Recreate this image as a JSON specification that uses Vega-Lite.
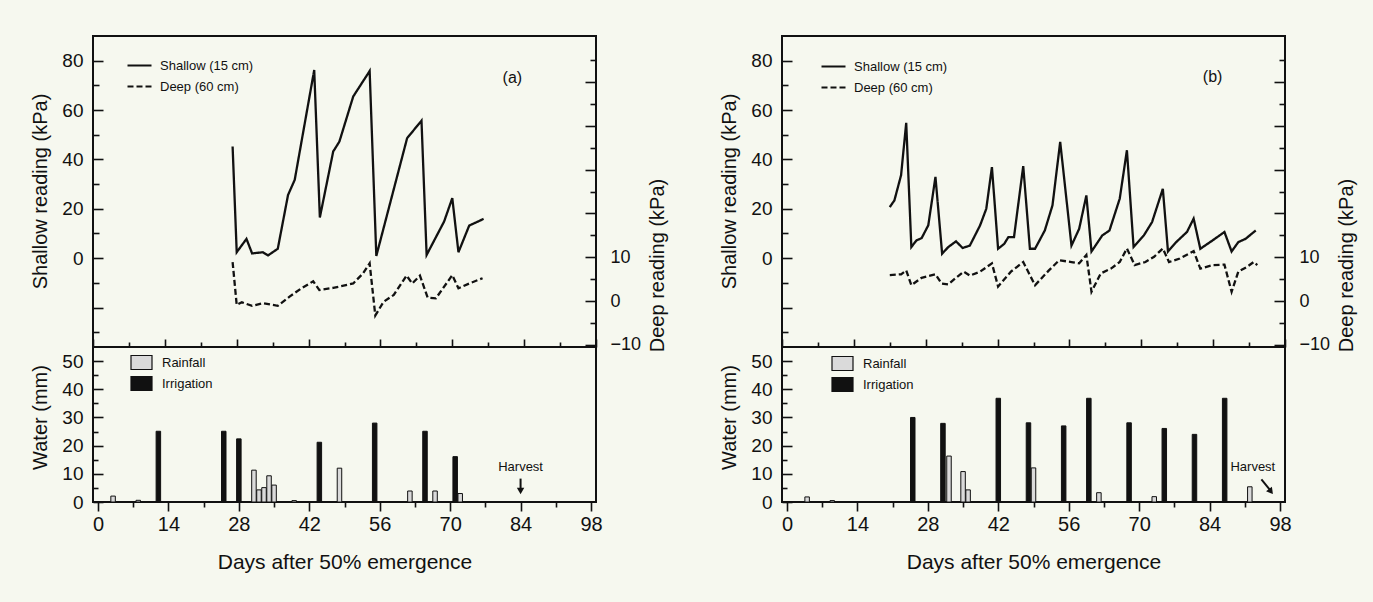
{
 "$schema": "https://vega.github.io/schema/vega-lite/v6.json",
 "background": "#f6f8ef",
 "padding": {"left": 29, "top": 35, "right": 16, "bottom": 29},
 "datasets": {
  "shallowA": [
   {"day":27.2,"kPa":45.2},{"day":28,"kPa":2.4},{"day":29.9,"kPa":7.8},{"day":31,"kPa":1.9},{"day":33.1,"kPa":2.4},{"day":34.1,"kPa":1.1},{"day":36,"kPa":3.8},{"day":38,"kPa":25.6},{"day":39.3,"kPa":31.7},{"day":43.1,"kPa":76.2},{"day":44.2,"kPa":16.5},{"day":46.8,"kPa":43.2},{"day":48,"kPa":47.2},{"day":50.7,"kPa":65.5},{"day":53.9,"kPa":75.8},{"day":55.2,"kPa":0.9},{"day":61.2,"kPa":48.6},{"day":64,"kPa":55.7},{"day":65,"kPa":1.3},{"day":68.4,"kPa":14.8},{"day":70,"kPa":24.3},{"day":71.2,"kPa":2.4},{"day":73.3,"kPa":13.2},{"day":76.1,"kPa":15.9}
  ],
  "deepA": [
   {"day":27.2,"kPa":8.9},{"day":28,"kPa":-0.9},{"day":29,"kPa":-0.3},{"day":31,"kPa":-1.1},{"day":33.1,"kPa":-0.5},{"day":36,"kPa":-1.1},{"day":38.3,"kPa":1.0},{"day":40.6,"kPa":2.9},{"day":42.9,"kPa":4.5},{"day":44.1,"kPa":2.5},{"day":46.8,"kPa":3.0},{"day":50.7,"kPa":4.0},{"day":52.6,"kPa":6.3},{"day":53.9,"kPa":8.6},{"day":55,"kPa":-3.3},{"day":56.6,"kPa":-0.2},{"day":58.6,"kPa":1.4},{"day":61.1,"kPa":5.8},{"day":62.2,"kPa":4.0},{"day":63.7,"kPa":5.8},{"day":65.2,"kPa":0.8},{"day":66.8,"kPa":0.6},{"day":70,"kPa":5.9},{"day":71.2,"kPa":2.9},{"day":73.3,"kPa":4.0},{"day":75.9,"kPa":5.2}
  ],
  "shallowB": [
   {"day":21,"kPa":20.7},{"day":21.9,"kPa":23.4},{"day":23.2,"kPa":33.6},{"day":24.2,"kPa":54.8},{"day":25.2,"kPa":4.5},{"day":26.2,"kPa":7.2},{"day":27.2,"kPa":8.1},{"day":28.5,"kPa":13.3},{"day":29.9,"kPa":32.9},{"day":31.2,"kPa":1.8},{"day":32.4,"kPa":4.5},{"day":33.9,"kPa":6.8},{"day":35.2,"kPa":4.1},{"day":36.6,"kPa":5.1},{"day":38.6,"kPa":13.3},{"day":39.8,"kPa":20.0},{"day":40.9,"kPa":36.9},{"day":42.1,"kPa":3.8},{"day":43.3,"kPa":5.8},{"day":44.1,"kPa":8.5},{"day":45.2,"kPa":8.5},{"day":47,"kPa":37.3},{"day":48.3,"kPa":3.8},{"day":49.3,"kPa":3.8},{"day":51.2,"kPa":11.2},{"day":52.7,"kPa":21.4},{"day":54.2,"kPa":47.1},{"day":56.4,"kPa":5.1},{"day":57.9,"kPa":11.9},{"day":59.3,"kPa":25.4},{"day":60.3,"kPa":2.7},{"day":62.4,"kPa":9.2},{"day":63.8,"kPa":11.2},{"day":65.8,"kPa":24.1},{"day":67.2,"kPa":43.7},{"day":68.5,"kPa":4.5},{"day":70.5,"kPa":9.2},{"day":72.1,"kPa":14.6},{"day":74.2,"kPa":28.1},{"day":75.2,"kPa":2.7},{"day":76.8,"kPa":6.5},{"day":78.9,"kPa":10.6},{"day":80.2,"kPa":16.0},{"day":81.5,"kPa":3.8},{"day":83.9,"kPa":7.2},{"day":86.2,"kPa":10.6},{"day":87.6,"kPa":2.7},{"day":88.9,"kPa":6.5},{"day":90.3,"kPa":7.8},{"day":92.3,"kPa":11.2}
  ],
  "deepB": [
   {"day":21,"kPa":5.9},{"day":23.2,"kPa":6.1},{"day":24.2,"kPa":7.0},{"day":25.2,"kPa":3.6},{"day":27.2,"kPa":5.3},{"day":29.9,"kPa":6.1},{"day":31.1,"kPa":4.0},{"day":32.4,"kPa":3.8},{"day":33.9,"kPa":5.3},{"day":35.4,"kPa":6.7},{"day":36.6,"kPa":5.8},{"day":38.6,"kPa":6.7},{"day":40.9,"kPa":8.6},{"day":42.1,"kPa":3.3},{"day":44.6,"kPa":6.7},{"day":47,"kPa":8.9},{"day":49.3,"kPa":3.6},{"day":52,"kPa":7.0},{"day":54,"kPa":9.3},{"day":56.4,"kPa":8.9},{"day":57.9,"kPa":8.6},{"day":59.3,"kPa":10.5},{"day":60.3,"kPa":2.1},{"day":62.1,"kPa":6.3},{"day":64.1,"kPa":7.4},{"day":65.8,"kPa":8.9},{"day":67.2,"kPa":12.0},{"day":68.7,"kPa":8.2},{"day":70.8,"kPa":8.9},{"day":72.5,"kPa":10.1},{"day":74.2,"kPa":12.0},{"day":75.4,"kPa":8.9},{"day":77.5,"kPa":9.7},{"day":80.2,"kPa":11.4},{"day":81.5,"kPa":7.4},{"day":83.9,"kPa":8.2},{"day":86.2,"kPa":8.3},{"day":87.6,"kPa":2.1},{"day":88.9,"kPa":6.7},{"day":90.6,"kPa":7.8},{"day":91.9,"kPa":8.9},{"day":92.6,"kPa":8.2}
  ],
  "waterA": [
   {"day":3,"mm":2.1,"type":"Rainfall"},{"day":8,"mm":0.6,"type":"Rainfall"},{"day":12,"mm":25.1,"type":"Irrigation"},{"day":25,"mm":25.1,"type":"Irrigation"},{"day":28,"mm":22.4,"type":"Irrigation"},{"day":31,"mm":11.3,"type":"Rainfall"},{"day":32,"mm":4.3,"type":"Rainfall"},{"day":33,"mm":5.1,"type":"Rainfall"},{"day":34,"mm":9.3,"type":"Rainfall"},{"day":35,"mm":6.0,"type":"Rainfall"},{"day":39,"mm":0.5,"type":"Rainfall"},{"day":44,"mm":21.2,"type":"Irrigation"},{"day":48,"mm":12.0,"type":"Rainfall"},{"day":55,"mm":28.0,"type":"Irrigation"},{"day":62,"mm":3.9,"type":"Rainfall"},{"day":65,"mm":25.1,"type":"Irrigation"},{"day":67,"mm":3.9,"type":"Rainfall"},{"day":71,"mm":16.1,"type":"Irrigation"},{"day":72,"mm":3.0,"type":"Rainfall"}
  ],
  "waterB": [
   {"day":4,"mm":1.8,"type":"Rainfall"},{"day":9,"mm":0.5,"type":"Rainfall"},{"day":25,"mm":30.0,"type":"Irrigation"},{"day":31,"mm":27.9,"type":"Irrigation"},{"day":32.2,"mm":16.3,"type":"Rainfall"},{"day":35,"mm":10.8,"type":"Rainfall"},{"day":36,"mm":4.3,"type":"Rainfall"},{"day":42,"mm":36.8,"type":"Irrigation"},{"day":48,"mm":28.1,"type":"Irrigation"},{"day":49,"mm":12.1,"type":"Rainfall"},{"day":55,"mm":27.0,"type":"Irrigation"},{"day":60,"mm":36.8,"type":"Irrigation"},{"day":62,"mm":3.3,"type":"Rainfall"},{"day":68,"mm":28.1,"type":"Irrigation"},{"day":73,"mm":1.9,"type":"Rainfall"},{"day":75,"mm":26.1,"type":"Irrigation"},{"day":81,"mm":24.0,"type":"Irrigation"},{"day":87,"mm":36.8,"type":"Irrigation"},{"day":92,"mm":5.4,"type":"Rainfall"}
  ]
 },
 "spacing": 50,
 "resolve": {"scale": {"strokeDash": "independent", "fill": "independent"}, "legend": {"strokeDash": "independent", "fill": "independent"}},
 "hconcat": [
  {
   "bounds": "flush",
   "spacing": 0,
   "resolve": {"scale": {"strokeDash": "independent", "fill": "independent"}, "legend": {"strokeDash": "independent", "fill": "independent"}},
   "vconcat": [
    {
     "width": 503, "height": 311,
     "resolve": {"scale": {"y": "independent"}},
     "layer": [
      {
       "layer": [
        {
         "data": {"name": "shallowA"},
         "mark": {"type": "line", "color": "#111", "strokeWidth": 2.3},
         "encoding": {
          "x": {"field": "day", "type": "quantitative", "scale": {"domain": [0, 98], "nice": false, "zero": false},
                "axis": {"orient": "bottom", "values": [0,7,14,21,28,35,42,49,56,63,70,77,84,91,98], "tickCount": 50, "labels": false, "title": null,
                         "tickSize": {"condition": {"test": "datum.value % 14 === 0", "value": -8}, "value": -5}}},
          "y": {"field": "kPa", "type": "quantitative", "scale": {"domain": [-36, 90], "nice": false, "zero": false},
                "axis": {"orient": "left", "values": [-30,-20,-10,0,10,20,30,40,50,60,70,80], "tickCount": 50,
                         "labelExpr": "datum.value >= 0 && datum.value % 20 === 0 ? datum.label : ''",
                         "tickSize": {"condition": {"test": "datum.value % 20 === 0", "value": -10}, "value": -6},
                         "labelPadding": 20, "title": "Shallow reading (kPa)", "titleAngle": 270, "titleX": -53, "titleY": 155, "titleAlign": "center", "titleBaseline": "middle"}},
          "strokeDash": {"datum": "Shallow (15 cm)", "type": "nominal",
                         "scale": {"domain": ["Shallow (15 cm)", "Deep (60 cm)"], "range": [[1, 0], [6, 3]]},
                         "legend": {"orient": "none", "legendX": 33, "legendY": 16, "title": null, "symbolSize": 576, "symbolStrokeWidth": 2.2, "symbolStrokeColor": "#111", "rowPadding": -5, "labelOffset": 7, "padding": 0, "labelFontSize": 13}}
         }
        },
        {
         "data": {"values": [{"day": 81.7, "v": 73, "t": "(a)"}]},
         "mark": {"type": "text", "fontSize": 16, "color": "#111"},
         "encoding": {"x": {"field": "day", "type": "quantitative", "scale": {"domain": [0, 98], "nice": false, "zero": false}}, "y": {"field": "v", "type": "quantitative"}, "text": {"field": "t"}}
        }
       ]
      },
      {
       "data": {"name": "deepA"},
       "mark": {"type": "line", "color": "#111", "strokeWidth": 2.3},
       "encoding": {
        "x": {"field": "day", "type": "quantitative", "scale": {"domain": [0, 98], "nice": false, "zero": false}},
        "y": {"field": "kPa", "type": "quantitative", "scale": {"domain": [-10.5, 60.5], "nice": false, "zero": false},
              "axis": {"orient": "right", "values": [-10,-5,0,5,10,15,20,25,30,35,40,45,50,55], "tickCount": 50,
                       "labelExpr": "datum.value <= 10 && datum.value % 10 === 0 ? datum.label : ''",
                       "tickSize": {"condition": {"test": "datum.value % 10 === 0", "value": -11}, "value": -6},
                       "labelPadding": 25, "labelFontSize": 18, "labelAlign": "left",
                       "title": "Deep reading (kPa)", "titleAngle": 270, "titleX": 61, "titleY": 229, "titleAlign": "center", "titleBaseline": "middle"}},
        "strokeDash": {"datum": "Deep (60 cm)", "type": "nominal", "scale": {"domain": ["Shallow (15 cm)", "Deep (60 cm)"], "range": [[1, 0], [6, 3]]}}
       }
      }
     ]
    },
    {
     "width": 503, "height": 155,
     "layer": [
      {
       "data": {"name": "waterA"},
       "mark": {"type": "bar", "width": 4.5, "stroke": "#111", "strokeWidth": 1},
       "encoding": {
        "x": {"field": "day", "type": "quantitative", "scale": {"domain": [0, 98], "nice": false, "zero": false},
              "axis": {"values": [0,7,14,21,28,35,42,49,56,63,70,77,84,91,98], "tickCount": 50, "labelExpr": "datum.value % 14 === 0 ? datum.label : ''",
                       "tickSize": {"condition": {"test": "datum.value % 14 === 0", "value": 9}, "value": 5},
                       "labelFontSize": 20, "labelPadding": 3, "title": "Days after 50% emergence", "titleFontSize": 21, "titleY": 60, "titleBaseline": "middle"}},
        "y": {"field": "mm", "type": "quantitative", "scale": {"domain": [0, 55], "nice": false},
              "axis": {"values": [0,5,10,15,20,25,30,35,40,45,50], "tickCount": 50, "labelExpr": "datum.value % 10 === 0 ? datum.label : ''",
                       "tickSize": {"condition": {"test": "datum.value % 10 === 0", "value": -10}, "value": -5},
                       "labelPadding": 20, "title": "Water (mm)", "titleAngle": 270, "titleX": -53, "titleY": 70, "titleAlign": "center", "titleBaseline": "middle"}},
        "fill": {"field": "type", "type": "nominal", "scale": {"domain": ["Rainfall", "Irrigation"], "range": ["#dadada", "#111111"]},
                 "legend": {"orient": "none", "legendX": 37, "legendY": 4, "title": null, "symbolType": "M-1,-0.667H1V0.667H-1Z", "symbolSize": 441, "symbolStrokeColor": "#111", "symbolStrokeWidth": 1.2, "rowPadding": -2, "labelOffset": 9, "padding": 0, "labelFontSize": 13}}
       }
      },
      {
       "data": {"values": [{"day": 84, "mm": 12.3, "t": "Harvest"}]},
       "mark": {"type": "text", "fontSize": 13, "color": "#111"},
       "encoding": {"x": {"field": "day", "type": "quantitative"}, "y": {"field": "mm", "type": "quantitative"}, "text": {"field": "t"}}
      },
      {
       "data": {"values": [{"x1": 84, "x2": 84, "y1": 8.3, "y2": 4.5}]},
       "mark": {"type": "rule", "color": "#111", "strokeWidth": 2},
       "encoding": {"x": {"field": "x1", "type": "quantitative"}, "x2": {"field": "x2"}, "y": {"field": "y1", "type": "quantitative"}, "y2": {"field": "y2"}}
      },
      {
       "data": {"values": [{"day": 84, "mm": 3.9}]},
       "mark": {"type": "point", "shape": "triangle-down", "filled": true, "color": "#111", "size": 55, "opacity": 1},
       "encoding": {"x": {"field": "day", "type": "quantitative"}, "y": {"field": "mm", "type": "quantitative"}}
      }
     ]
    }
   ]
  },
  {
   "bounds": "flush",
   "spacing": 0,
   "resolve": {"scale": {"strokeDash": "independent", "fill": "independent"}, "legend": {"strokeDash": "independent", "fill": "independent"}},
   "vconcat": [
    {
     "width": 503, "height": 311,
     "resolve": {"scale": {"y": "independent"}},
     "layer": [
      {
       "layer": [
        {
         "data": {"name": "shallowB"},
         "mark": {"type": "line", "color": "#111", "strokeWidth": 2.3},
         "encoding": {
          "x": {"field": "day", "type": "quantitative", "scale": {"domain": [0, 98], "nice": false, "zero": false},
                "axis": {"orient": "bottom", "values": [0,7,14,21,28,35,42,49,56,63,70,77,84,91,98], "tickCount": 50, "labels": false, "title": null,
                         "tickSize": {"condition": {"test": "datum.value % 14 === 0", "value": -8}, "value": -5}}},
          "y": {"field": "kPa", "type": "quantitative", "scale": {"domain": [-36, 90], "nice": false, "zero": false},
                "axis": {"orient": "left", "values": [-30,-20,-10,0,10,20,30,40,50,60,70,80], "tickCount": 50,
                         "labelExpr": "datum.value >= 0 && datum.value % 20 === 0 ? datum.label : ''",
                         "tickSize": {"condition": {"test": "datum.value % 20 === 0", "value": -10}, "value": -6},
                         "labelPadding": 20, "title": "Shallow reading (kPa)", "titleAngle": 270, "titleX": -53, "titleY": 155, "titleAlign": "center", "titleBaseline": "middle"}},
          "strokeDash": {"datum": "Shallow (15 cm)", "type": "nominal",
                         "scale": {"domain": ["Shallow (15 cm)", "Deep (60 cm)"], "range": [[1, 0], [6, 3]]},
                         "legend": {"orient": "none", "legendX": 38, "legendY": 17, "title": null, "symbolSize": 576, "symbolStrokeWidth": 2.2, "symbolStrokeColor": "#111", "rowPadding": -5, "labelOffset": 7, "padding": 0, "labelFontSize": 13}}
         }
        },
        {
         "data": {"values": [{"day": 83.9, "v": 73.5, "t": "(b)"}]},
         "mark": {"type": "text", "fontSize": 16, "color": "#111"},
         "encoding": {"x": {"field": "day", "type": "quantitative", "scale": {"domain": [0, 98], "nice": false, "zero": false}}, "y": {"field": "v", "type": "quantitative"}, "text": {"field": "t"}}
        }
       ]
      },
      {
       "data": {"name": "deepB"},
       "mark": {"type": "line", "color": "#111", "strokeWidth": 2.3},
       "encoding": {
        "x": {"field": "day", "type": "quantitative", "scale": {"domain": [0, 98], "nice": false, "zero": false}},
        "y": {"field": "kPa", "type": "quantitative", "scale": {"domain": [-10.5, 60.5], "nice": false, "zero": false},
              "axis": {"orient": "right", "values": [-10,-5,0,5,10,15,20,25,30,35,40,45,50,55], "tickCount": 50,
                       "labelExpr": "datum.value <= 10 && datum.value % 10 === 0 ? datum.label : ''",
                       "tickSize": {"condition": {"test": "datum.value % 10 === 0", "value": -11}, "value": -6},
                       "labelPadding": 25, "labelFontSize": 18, "labelAlign": "left",
                       "title": "Deep reading (kPa)", "titleAngle": 270, "titleX": 61, "titleY": 229, "titleAlign": "center", "titleBaseline": "middle"}},
        "strokeDash": {"datum": "Deep (60 cm)", "type": "nominal", "scale": {"domain": ["Shallow (15 cm)", "Deep (60 cm)"], "range": [[1, 0], [6, 3]]}}
       }
      }
     ]
    },
    {
     "width": 503, "height": 155,
     "layer": [
      {
       "data": {"name": "waterB"},
       "mark": {"type": "bar", "width": 4.5, "stroke": "#111", "strokeWidth": 1},
       "encoding": {
        "x": {"field": "day", "type": "quantitative", "scale": {"domain": [0, 98], "nice": false, "zero": false},
              "axis": {"values": [0,7,14,21,28,35,42,49,56,63,70,77,84,91,98], "tickCount": 50, "labelExpr": "datum.value % 14 === 0 ? datum.label : ''",
                       "tickSize": {"condition": {"test": "datum.value % 14 === 0", "value": 9}, "value": 5},
                       "labelFontSize": 20, "labelPadding": 3, "title": "Days after 50% emergence", "titleFontSize": 21, "titleY": 60, "titleBaseline": "middle"}},
        "y": {"field": "mm", "type": "quantitative", "scale": {"domain": [0, 55], "nice": false},
              "axis": {"values": [0,5,10,15,20,25,30,35,40,45,50], "tickCount": 50, "labelExpr": "datum.value % 10 === 0 ? datum.label : ''",
                       "tickSize": {"condition": {"test": "datum.value % 10 === 0", "value": -10}, "value": -5},
                       "labelPadding": 20, "title": "Water (mm)", "titleAngle": 270, "titleX": -53, "titleY": 70, "titleAlign": "center", "titleBaseline": "middle"}},
        "fill": {"field": "type", "type": "nominal", "scale": {"domain": ["Rainfall", "Irrigation"], "range": ["#dadada", "#111111"]},
                 "legend": {"orient": "none", "legendX": 49, "legendY": 5, "title": null, "symbolType": "M-1,-0.667H1V0.667H-1Z", "symbolSize": 441, "symbolStrokeColor": "#111", "symbolStrokeWidth": 1.2, "rowPadding": -2, "labelOffset": 9, "padding": 0, "labelFontSize": 13}}
       }
      },
      {
       "data": {"values": [{"day": 92.6, "mm": 12.3, "t": "Harvest"}]},
       "mark": {"type": "text", "fontSize": 13, "color": "#111"},
       "encoding": {"x": {"field": "day", "type": "quantitative"}, "y": {"field": "mm", "type": "quantitative"}, "text": {"field": "t"}}
      },
      {
       "data": {"values": [{"x1": 94.3, "x2": 96.0, "y1": 8.0, "y2": 4.3}]},
       "mark": {"type": "rule", "color": "#111", "strokeWidth": 2},
       "encoding": {"x": {"field": "x1", "type": "quantitative"}, "x2": {"field": "x2"}, "y": {"field": "y1", "type": "quantitative"}, "y2": {"field": "y2"}}
      },
      {
       "data": {"values": [{"day": 96.2, "mm": 3.7}]},
       "mark": {"type": "point", "shape": "triangle-down", "filled": true, "color": "#111", "size": 55, "opacity": 1, "angle": 322},
       "encoding": {"x": {"field": "day", "type": "quantitative"}, "y": {"field": "mm", "type": "quantitative"}}
      }
     ]
    }
   ]
  }
 ],
 "config": {
  "font": "Liberation Sans",
  "view": {"stroke": "#111", "strokeWidth": 2},
  "axis": {"domain": false, "grid": false, "tickColor": "#111", "tickWidth": 1.6, "labelFont": "Liberation Sans", "labelFontSize": 19, "labelColor": "#111", "titleFont": "Liberation Sans", "titleFontSize": 20, "titleFontWeight": "normal", "titleColor": "#111", "labelFlush": false, "labelOverlap": false},
  "legend": {"labelFont": "Liberation Sans", "labelFontSize": 13, "labelColor": "#111"}
 }
}
